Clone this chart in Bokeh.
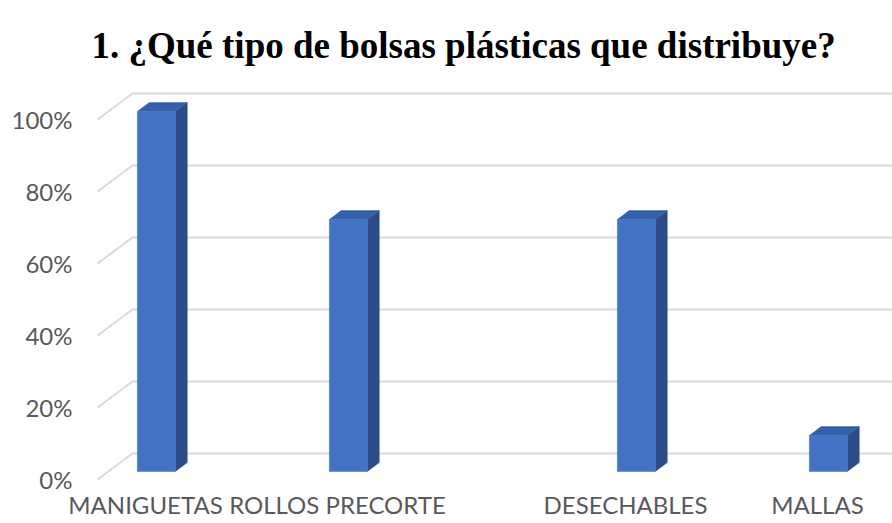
from bokeh.plotting import figure
from bokeh.models import FixedTicker, Range1d, Title
from bokeh.embed import file_html
from bokeh.resources import INLINE

# ---- data ----
categories = ["MANIGUETAS", "", "ROLLOS PRECORTE", "", "", "DESECHABLES", "", "MALLAS"]
values = [1.0, None, 0.7, None, None, 0.7, None, 0.1]
y_ticks = [0, 0.2, 0.4, 0.6, 0.8, 1.0]
y_tick_labels = ["0%", "20%", "40%", "60%", "80%", "100%"]
title_text = "1. ¿Qué tipo de bolsas plásticas que distribuye?"

# ---- layout constants ----
W, H = 892, 523
B_LEFT, B_RIGHT, B_TOP, B_BOTTOM = 97, 0, 85, 42
FRAME_W = W - B_LEFT - B_RIGHT
FRAME_H = H - B_TOP - B_BOTTOM
PX_X = 96.0    # pixels per category slot
PX_Y = 360.0   # pixels per 100 %
ZERO_PX = 479  # pixel row of 0 % on the front plane
x0 = -0.5
x1 = x0 + FRAME_W / PX_X
y0 = -(H - B_BOTTOM - ZERO_PX) / PX_Y
y1 = y0 + FRAME_H / PX_Y

DX, DY = 35 / PX_X, 26 / PX_Y      # full depth of the 3D floor
F1, F2 = 0.31, 0.65               # bar depth band
BW = 38 / PX_X                    # bar width

GRID = "#d9d9d9"
TEXT = "#595959"
FRONT = "#4472C4"
SIDE = "#2B4C86"
TOPC = "#3360A8"

p = figure(width=W, height=H, x_range=Range1d(x0, x1), y_range=Range1d(y0, y1),
           output_backend="svg", toolbar_location=None,
           min_border_left=B_LEFT, min_border_right=B_RIGHT,
           min_border_top=B_TOP, min_border_bottom=B_BOTTOM)
p.outline_line_color = None
p.xgrid.visible = False
p.ygrid.visible = False
p.background_fill_color = "white"
p.border_fill_color = "white"

t = Title(text=title_text, align="left", offset=-6, standoff=40,
          text_font="Liberation Serif", text_font_style="bold",
          text_font_size="37px", text_color="black")
p.add_layout(t, "above")

# gridlines (3D wall + back plane)
gx = [[x0, x0 + DX, x1] for v in y_ticks]
gy = [[v, v + DY, v + DY] for v in y_ticks]
p.multi_line(gx, gy, line_color=GRID, line_width=2)

# bars
idx = [i for i, v in enumerate(values) if v is not None]
vals = [values[i] for i in idx]
front_xs, front_ys, side_xs, side_ys, top_xs, top_ys = [], [], [], [], [], []
for i, v in zip(idx, vals):
    l1, r1 = i - BW / 2 + F1 * DX, i + BW / 2 + F1 * DX
    l2, r2 = i - BW / 2 + F2 * DX, i + BW / 2 + F2 * DX
    b1, b2 = F1 * DY, F2 * DY
    front_xs.append([l1, r1, r1, l1]); front_ys.append([b1, b1, v + b1, v + b1])
    side_xs.append([r1, r2, r2, r1]); side_ys.append([b1, b2, v + b2, v + b1])
    top_xs.append([l1, r1, r2, l2]); top_ys.append([v + b1, v + b1, v + b2, v + b2])
p.patches(side_xs, side_ys, fill_color=SIDE, line_color=SIDE, line_width=0.5)
p.patches(top_xs, top_ys, fill_color=TOPC, line_color=TOPC, line_width=0.5)
p.patches(front_xs, front_ys, fill_color=FRONT, line_color=FRONT, line_width=0.5)

# axes
p.xaxis.ticker = FixedTicker(ticks=[i for i, c in enumerate(categories) if c])
p.xaxis.major_label_overrides = {i: c for i, c in enumerate(categories) if c}
p.xaxis.axis_line_color = None
p.xaxis.major_tick_line_color = None
p.xaxis.minor_tick_line_color = None
p.xaxis.major_label_standoff = 2
p.xaxis.major_label_text_font = "Lato"
p.xaxis.major_label_text_font_size = "24px"
p.xaxis.major_label_text_color = TEXT

p.yaxis.ticker = FixedTicker(ticks=y_ticks)
p.yaxis.major_label_overrides = dict(zip(y_ticks, y_tick_labels))
p.yaxis.axis_line_color = None
p.yaxis.major_tick_line_color = None
p.yaxis.minor_tick_line_color = None
p.yaxis.major_label_standoff = 19
p.yaxis.major_label_text_font = "Lato"
p.yaxis.major_label_text_font_size = "24px"
p.yaxis.major_label_text_color = TEXT

open("out.html", "w").write(file_html(p, INLINE))
